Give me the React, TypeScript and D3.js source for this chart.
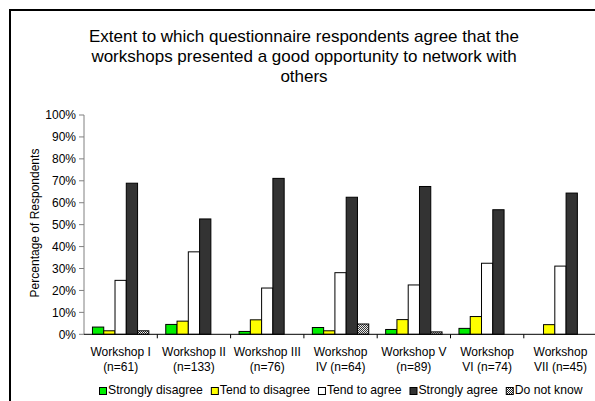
import React from "react";
import * as d3 from "d3";

const categories = [
  "Workshop I\n(n=61)",
  "Workshop II\n(n=133)",
  "Workshop III\n(n=76)",
  "Workshop\nIV (n=64)",
  "Workshop V\n(n=89)",
  "Workshop\nVI (n=74)",
  "Workshop\nVII (n=45)",
];
const seriesNames = ["Strongly disagree", "Tend to disagree", "Tend to agree", "Strongly agree", "Do not know"];
const stronglyDisagree = [3.3, 4.5, 1.3, 3.1, 2.2, 2.7, 0];
const tendToDisagree = [1.6, 6.0, 6.6, 1.6, 6.7, 8.1, 4.4];
const tendToAgree = [24.6, 37.6, 21.1, 28.1, 22.5, 32.4, 31.1];
const stronglyAgree = [68.9, 52.6, 71.1, 62.5, 67.4, 56.8, 64.4];
const doNotKnow = [1.6, 0, 0, 4.7, 1.1, 0, 0];
const yTicks = [0, 10, 20, 30, 40, 50, 60, 70, 80, 90, 100];
const titleLines = [
  "Extent to which questionnaire respondents agree that the",
  "workshops presented a good opportunity to network with",
  "others",
];
const yAxisTitle = "Percentage of Respondents";

const seriesValues = [stronglyDisagree, tendToDisagree, tendToAgree, stronglyAgree, doNotKnow];
const fills = ["#00ee00", "#ffff00", "#ffffff", "#333333", "url(#dnk)"];
const FONT = "'Liberation Sans', Arial, sans-serif";

function measure(text: string, size: number) {
  if (typeof document === "undefined") return text.length * size * 0.5;
  const c = document.createElement("canvas").getContext("2d")!;
  c.font = `${size}px ${FONT}`;
  return c.measureText(text).width;
}

export default function App() {
  const W = 595, H = 401;
  const plotLeft = 84, plotRight = 84 + 7 * 73.3;
  const y = d3.scaleLinear().domain([0, 100]).range([334.3, 115]);
  const x0 = d3.scaleBand<string>().domain(categories).range([plotLeft, plotRight]).paddingInner(0).paddingOuter(0);
  const bw = x0.bandwidth();
  const x1 = d3.scaleBand<number>().domain(d3.range(seriesNames.length)).range([bw * 0.1154, bw * (1 - 0.1154)]).padding(0);

  // legend layout
  const legendFont = 12.2;
  let lx = 99;
  const legendItems = seriesNames.map((name, i) => {
    const item = { name, i, x: lx };
    lx += 9 + measure(name, legendFont) + 8;
    return item;
  });

  return (
    <svg width={W} height={H} style={{ position: "absolute", left: 0, top: 0, background: "#fff" }} fontFamily={FONT}>
      <defs>
        <pattern id="dnk" width="2" height="2" patternUnits="userSpaceOnUse">
          <rect width="2" height="2" fill="#ffffff" />
          <rect width="1" height="1" fill="#222222" />
          <rect x="1" y="1" width="1" height="1" fill="#222222" />
        </pattern>
      </defs>
      <rect x={0} y={0} width={W} height={H} fill="#fff" />
      <rect x={10} y={10} width={W + 20} height={H + 20} fill="none" stroke="#000" strokeWidth={2} />
      {titleLines.map((t, i) => (
        <text key={i} x={304} y={42 + i * 20} textAnchor="middle" fontSize={17} fill="#000">{t}</text>
      ))}
      <text transform={`translate(38.5,223) rotate(-90)`} textAnchor="middle" fontSize={12} fill="#000">{yAxisTitle}</text>
      {yTicks.map((t) => (
        <g key={t}>
          <line x1={plotLeft - 5} x2={plotLeft} y1={y(t)} y2={y(t)} stroke="#808080" />
          <text x={plotLeft - 8} y={y(t) + 4.3} textAnchor="end" fontSize={12} fill="#000">{t}%</text>
        </g>
      ))}
      <line x1={plotLeft} x2={plotLeft} y1={y(100)} y2={y(0)} stroke="#808080" />
      {categories.map((c, ci) => (
        <g key={c} transform={`translate(${x0(c)},0)`}>
          {seriesValues.map((vals, si) => {
            const v = vals[ci];
            if (!v) return null;
            return (
              <rect key={si} x={x1(si)!} y={y(v)} width={x1.bandwidth()} height={y(0) - y(v)} fill={fills[si]} stroke="#000" strokeWidth={1} />
            );
          })}
        </g>
      ))}
      <line x1={plotLeft} x2={plotRight} y1={y(0)} y2={y(0)} stroke="#000" />
      {categories.map((c, ci) => (
        <line key={"t" + ci} x1={x0(c)! + bw} x2={x0(c)! + bw} y1={y(0)} y2={y(0) + 4} stroke="#000" />
      ))}
      {categories.map((c) => (
        <text key={"l" + c} x={x0(c)! + bw / 2} y={356} textAnchor="middle" fontSize={12} fill="#000">
          {c.split("\n").map((line, li) => (
            <tspan key={li} x={x0(c)! + bw / 2} dy={li === 0 ? 0 : 14.5}>{line}</tspan>
          ))}
        </text>
      ))}
      {legendItems.map((it) => (
        <g key={it.name}>
          <rect x={it.x + 0.5} y={387.5} width={7} height={7} fill={fills[it.i]} stroke="#000" strokeWidth={1} />
          <text x={it.x + 9} y={394} fontSize={legendFont} fill="#000">{it.name}</text>
        </g>
      ))}
    </svg>
  );
}
